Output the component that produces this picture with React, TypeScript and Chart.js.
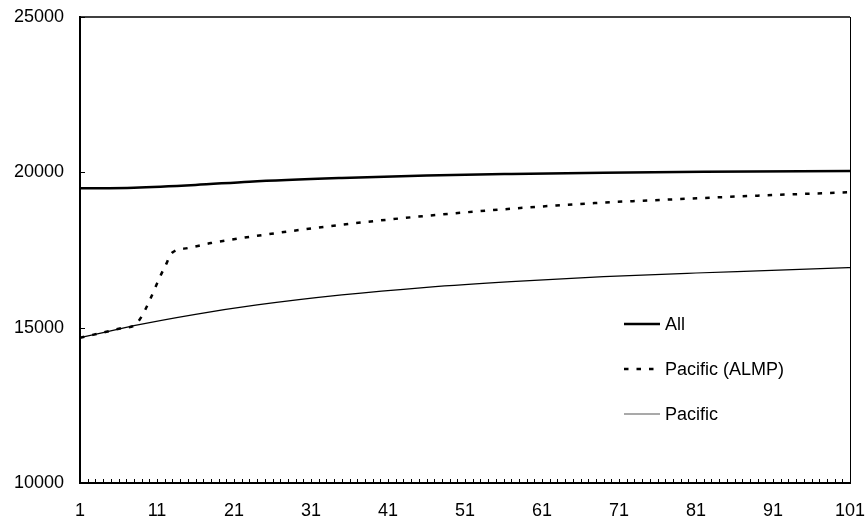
import React, { useEffect, useRef } from "react";
import { Chart, registerables } from "chart.js";

Chart.register(...registerables);

// Period index (x) and value (y) for each series
const allX = [1, 8, 16, 23, 35, 46, 57, 69, 82, 101];
const allY = [19484, 19506, 19593, 19700, 19819, 19900, 19950, 19990, 20022, 20045];

const almpX = [1, 4, 7, 8, 12, 13, 15, 18, 24, 35, 46, 57, 68, 79, 89, 101];
const almpY = [14677, 14843, 15009, 15064, 16948, 17419, 17561, 17722, 17958, 18313, 18600, 18829, 19013, 19141, 19250, 19360];

const pacificX = [1, 4, 7, 8, 16, 24, 35, 46, 57, 69, 81, 89, 101];
const pacificY = [14677, 14843, 15009, 15064, 15430, 15732, 16055, 16300, 16484, 16640, 16760, 16830, 16935];

const seriesNames = ["All", "Pacific (ALMP)", "Pacific"];

// Axis labels
const xTickLabels = [1, 11, 21, 31, 41, 51, 61, 71, 81, 91, 101];
const yTickLabels = [10000, 15000, 20000, 25000];

const FONT = "'Liberation Sans', Arial, sans-serif";

const toPoints = (xs: number[], ys: number[]) => xs.map((x, i) => ({ x, y: ys[i] }));

// Frame, inward tick marks and the in-plot legend
const framePlugin = {
  id: "frame",
  afterDraw(chart: any) {
    const { ctx, chartArea: a, scales } = chart;
    const xs = scales.x;
    const ys = scales.y;
    ctx.save();
    ctx.strokeStyle = "#000";

    // top and right edges of the box
    ctx.lineWidth = 1.5;
    ctx.beginPath();
    ctx.moveTo(a.left, a.top);
    ctx.lineTo(a.right, a.top);
    ctx.stroke();
    ctx.lineWidth = 1;
    ctx.beginPath();
    ctx.moveTo(a.right + 0.5, a.top);
    ctx.lineTo(a.right + 0.5, a.bottom);
    ctx.stroke();

    // minor ticks on the x axis, one per period
    ctx.lineWidth = 1;
    ctx.beginPath();
    for (let v = xs.min; v <= xs.max; v++) {
      const px = Math.round(xs.getPixelForValue(v)) + 0.5;
      ctx.moveTo(px, a.bottom);
      ctx.lineTo(px, a.bottom - 4);
    }
    // y ticks pointing inward
    for (const v of yTickLabels) {
      const py = Math.round(ys.getPixelForValue(v)) + 0.5;
      ctx.moveTo(a.left, py);
      ctx.lineTo(a.left + 5, py);
    }
    ctx.stroke();

    // legend
    const lx = a.left + 544;
    const rows = [a.top + 307, a.top + 352, a.top + 397];
    chart.data.datasets.forEach((ds: any, i: number) => {
      const y = rows[i];
      ctx.save();
      ctx.strokeStyle = ds.legendColor || ds.borderColor;
      ctx.lineWidth = ds.borderWidth;
      ctx.setLineDash(ds.borderDash || []);
      ctx.beginPath();
      ctx.moveTo(lx, y);
      ctx.lineTo(lx + 36, y);
      ctx.stroke();
      ctx.restore();
      ctx.fillStyle = "#000";
      ctx.font = `18px ${FONT}`;
      ctx.textBaseline = "middle";
      ctx.textAlign = "left";
      ctx.fillText(ds.label, lx + 41, y + 1);
    });
    ctx.restore();
  },
};

export default function App() {
  const canvasRef = useRef<HTMLCanvasElement | null>(null);

  useEffect(() => {
    document.body.style.margin = "0";
    const canvas = canvasRef.current;
    if (!canvas) return;
    const chart = new Chart(canvas, {
      type: "line",
      data: {
        datasets: [
          {
            label: seriesNames[0],
            data: toPoints(allX, allY),
            borderColor: "#000",
            borderWidth: 2.5,
            pointRadius: 0,
            cubicInterpolationMode: "monotone",
          },
          {
            label: seriesNames[1],
            data: toPoints(almpX, almpY),
            borderColor: "#000",
            borderWidth: 2.5,
            borderDash: [4.5, 8],
            pointRadius: 0,
            cubicInterpolationMode: "monotone",
          },
          {
            label: seriesNames[2],
            data: toPoints(pacificX, pacificY),
            borderColor: "#000",
            legendColor: "#555",
            borderWidth: 1.2,
            pointRadius: 0,
            cubicInterpolationMode: "monotone",
          } as any,
        ],
      },
      options: {
        responsive: false,
        animation: false,
        devicePixelRatio: 1,
        layout: { padding: { top: 17, right: 16, left: 0, bottom: 0 } },
        plugins: {
          legend: { display: false },
          tooltip: { enabled: false },
        },
        scales: {
          x: {
            type: "linear",
            min: 1,
            max: 101,
            afterBuildTicks: (s: any) => {
              s.ticks = xTickLabels.map((v) => ({ value: v }));
            },
            afterFit: (s: any) => {
              s.height = 39;
              s.paddingLeft = 0;
              s.paddingRight = 0;
            },
            grid: { display: false, drawTicks: false },
            border: { display: true, color: "#000", width: 2 },
            ticks: {
              color: "#000",
              font: { family: FONT, size: 18 },
              padding: 17,
              maxRotation: 0,
              autoSkip: false,
              callback: (v: any) => String(v),
            },
          },
          y: {
            type: "linear",
            min: 10000,
            max: 25000,
            afterBuildTicks: (s: any) => {
              s.ticks = yTickLabels.map((v) => ({ value: v }));
            },
            afterFit: (s: any) => {
              s.width = 80;
              s.paddingTop = 0;
              s.paddingBottom = 0;
            },
            grid: { display: false, drawTicks: false },
            border: { display: true, color: "#000", width: 2 },
            ticks: {
              color: "#000",
              font: { family: FONT, size: 18 },
              padding: 16,
              callback: (v: any) => String(v),
            },
          },
        },
      },
      plugins: [framePlugin],
    } as any);
    return () => chart.destroy();
  }, []);

  return (
    <div style={{ width: 866, height: 522, background: "#fff" }}>
      <canvas ref={canvasRef} width={866} height={522} style={{ display: "block" }} />
    </div>
  );
}
